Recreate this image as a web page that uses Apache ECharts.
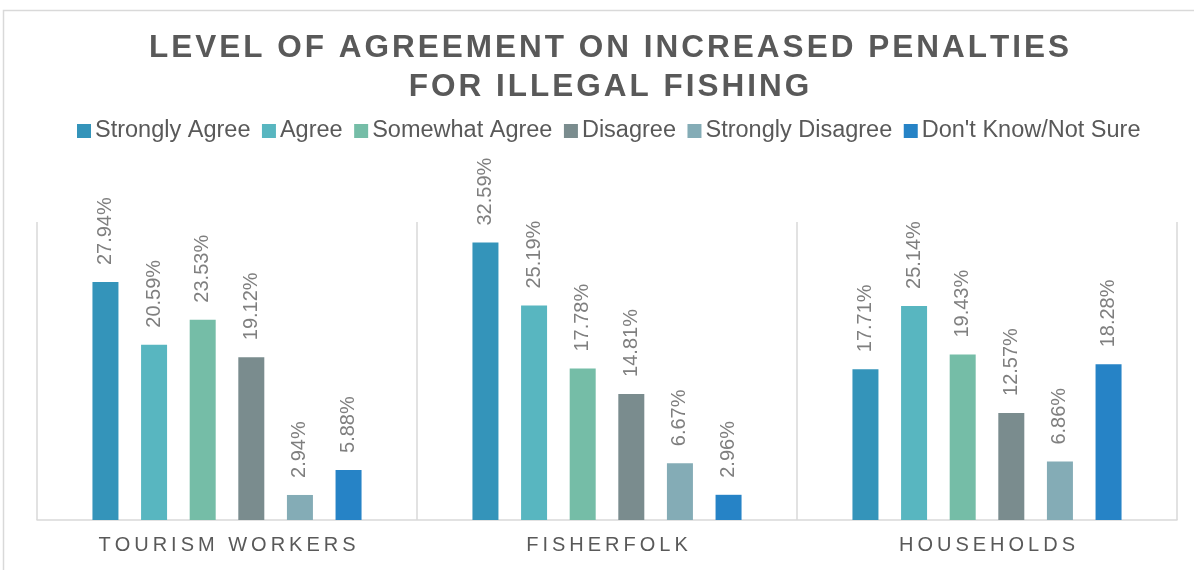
<!DOCTYPE html>
<html>
<head>
<meta charset="utf-8">
<script src="https://cdn.jsdelivr.net/npm/echarts@6/dist/echarts.min.js"></script>
<style>
  html, body { margin: 0; padding: 0; background: #fff; }
  #chart { width: 1194px; height: 570px; }
</style>
</head>
<body>
<div id="chart"></div>
<script>
// Survey groups along the category axis
const groups = ['TOURISM WORKERS', 'FISHERFOLK', 'HOUSEHOLDS'];

// Share of respondents (%) per response, one value per group
const stronglyAgree    = [27.94, 32.59, 17.71];
const agree            = [20.59, 25.19, 25.14];
const somewhatAgree    = [23.53, 17.78, 19.43];
const disagree         = [19.12, 14.81, 12.57];
const stronglyDisagree = [2.94, 6.67, 6.86];
const notSure          = [5.88, 2.96, 18.28];

const responseNames = ['Strongly Agree', 'Agree', 'Somewhat Agree', 'Disagree', 'Strongly Disagree', "Don't Know/Not Sure"];
const responseValues = [stronglyAgree, agree, somewhatAgree, disagree, stronglyDisagree, notSure];
const responseColors = ['#3494BA', '#58B6C0', '#75BDA7', '#7A8C8E', '#84ACB6', '#2683C6'];

const titleText = 'LEVEL OF AGREEMENT ON INCREASED PENALTIES\nFOR ILLEGAL FISHING';

// Letter-spaced text: every character becomes a rich token with side padding
function spaced(str, key) {
  return str.split('\n').map(line =>
    line.split('').map(ch => '{' + key + '|' + ch + '}').join('')
  ).join('\n');
}

const chart = echarts.init(document.getElementById('chart'));

const series = responseNames.map((name, i) => ({
  name: name,
  type: 'bar',
  data: responseValues[i],
  barWidth: 26,
  barGap: '87%',
  itemStyle: { color: responseColors[i] },
  label: {
    show: true,
    position: 'top',
    rotate: 90,
    align: 'left',
    verticalAlign: 'middle',
    distance: 17,
    fontFamily: 'Liberation Sans, Arial, sans-serif',
    fontSize: 20,
    color: '#7F7F7F',
    formatter: p => p.value.toFixed(2) + '%'
  }
}));

chart.setOption({
  animation: false,
  backgroundColor: '#ffffff',
  textStyle: { fontFamily: 'Liberation Sans, Arial, sans-serif' },
  graphic: [{
    type: 'rect',
    silent: true,
    z: -1,
    shape: { x: 3.5, y: 10.5, width: 1230, height: 620 },
    style: { fill: 'none', stroke: '#D9D9D9', lineWidth: 1.5 }
  }],
  title: {
    text: spaced(titleText, 't'),
    left: 609,
    textAlign: 'center',
    top: 29,
    padding: 0,
    textStyle: {
      rich: {
        t: {
          fontFamily: 'Liberation Sans, Arial, sans-serif',
          fontSize: 31.5,
          fontWeight: 'bold',
          color: '#595959',
          lineHeight: 39,
          padding: [0, 1.5, 0, 1.5],
          align: 'center'
        }
      }
    }
  },
  legend: {
    data: responseNames,
    left: 77,
    top: 119,
    padding: 0,
    itemWidth: 14,
    itemHeight: 14,
    itemGap: 11.5,
    icon: 'rect',
    textStyle: {
      fontFamily: 'Liberation Sans, Arial, sans-serif',
      fontSize: 23.5,
      color: '#595959',
      padding: [0, 0, 0, -1]
    }
  },
  grid: { left: 37, right: 17, top: 222, bottom: 50 },
  xAxis: {
    type: 'category',
    data: groups,
    axisLine: { show: true, lineStyle: { color: '#D9D9D9', width: 1.5 } },
    axisTick: { show: false, interval: 0 },
    splitLine: { show: true, interval: 0, lineStyle: { color: '#D9D9D9', width: 1.5 } },
    axisLabel: {
      interval: 0,
      margin: 15,
      formatter: v => spaced(v, 'a'),
      rich: {
        a: {
          fontFamily: 'Liberation Sans, Arial, sans-serif',
          fontSize: 20,
          color: '#595959',
          lineHeight: 20,
          padding: [0, 2, 0, 2],
          align: 'center'
        }
      }
    }
  },
  yAxis: {
    type: 'value',
    min: 0,
    max: 35,
    show: false,
    splitLine: { show: false }
  },
  series: series
});
</script>
</body>
</html>
